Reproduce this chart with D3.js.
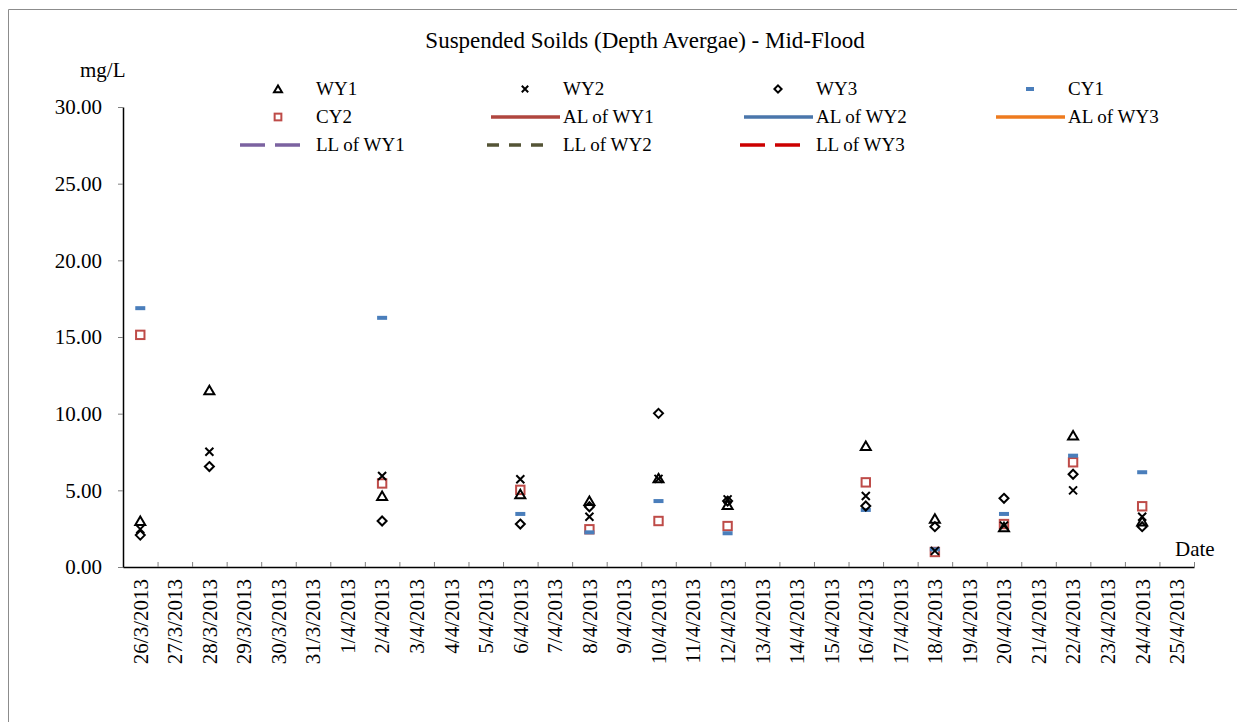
<!DOCTYPE html>
<html>
<head>
<meta charset="utf-8">
<script src="https://cdn.jsdelivr.net/npm/d3@7"></script>
<style>
    body { margin: 0; background: #fff; }
    svg { display: block; }
    text { font-family: "Liberation Serif", "Times New Roman", serif; }
</style>
</head>
<body>
<div id="chart"></div>
<script>
// every day on the category axis
const dates = ["26/3/2013", "27/3/2013", "28/3/2013", "29/3/2013", "30/3/2013", "31/3/2013",
    "1/4/2013", "2/4/2013", "3/4/2013", "4/4/2013", "5/4/2013", "6/4/2013", "7/4/2013",
    "8/4/2013", "9/4/2013", "10/4/2013", "11/4/2013", "12/4/2013", "13/4/2013", "14/4/2013",
    "15/4/2013", "16/4/2013", "17/4/2013", "18/4/2013", "19/4/2013", "20/4/2013", "21/4/2013",
    "22/4/2013", "23/4/2013", "24/4/2013", "25/4/2013"];

// days that were sampled
const sampleDates = ["26/3/2013", "28/3/2013", "2/4/2013", "6/4/2013", "8/4/2013", "10/4/2013",
    "12/4/2013", "16/4/2013", "18/4/2013", "20/4/2013", "22/4/2013", "24/4/2013"];

const wy1 = [3.00, 11.53, 4.63, 4.75, 4.30, 5.78, 4.04, 7.89, 3.15, 2.60, 8.57, 2.96];
const wy2 = [2.47, 7.52, 5.93, 5.72, 3.28, 5.75, 4.41, 4.63, 1.05, 2.70, 5.00, 3.28];
const wy3 = [2.08, 6.55, 3.00, 2.80, 3.93, 10.02, 4.30, 3.98, 2.63, 4.48, 6.05, 2.63];
const cy1 = [16.88, null, 16.25, 3.46, 2.26, 4.30, 2.20, 3.72, 1.15, 3.46, 7.26, 6.18];
const cy2 = [15.14, null, 5.45, 5.03, 2.46, 3.00, 2.67, 5.52, 0.98, 2.80, 6.83, 3.96];

const yTicks = [0, 5, 10, 15, 20, 25, 30];

const FONT = '"Liberation Serif", "Times New Roman", serif';
const width = 1237, height = 722;
const margin = {left: 123, right: 43, top: 107, bottom: 155};

const svg = d3.select('#chart').append('svg')
    .attr('width', width)
    .attr('height', height)
    .attr('font-family', FONT);

// chart frame
svg.append('path')
    .attr('d', `M8.5,${height} V9.5 H${width}`)
    .attr('fill', 'none')
    .attr('stroke', '#8c8c8c');

const x = d3.scaleBand()
    .domain(dates)
    .range([margin.left, width - margin.right]);

const xEdge = d3.scaleLinear()
    .domain([0, dates.length])
    .range([margin.left, width - margin.right]);

const y = d3.scaleLinear()
    .domain([0, 30])
    .range([height - margin.bottom, margin.top]);

const y0 = height - margin.bottom;

// y axis
const yAxis = svg.append('g')
    .attr('transform', `translate(${margin.left},0)`)
    .call(d3.axisLeft(y).tickValues(yTicks).tickSize(5).tickSizeOuter(0)
        .tickPadding(16).tickFormat(d3.format('.2f')));
yAxis.attr('font-family', FONT);
yAxis.select('.domain').attr('stroke', '#000').attr('stroke-width', 1.5);
yAxis.selectAll('.tick line').attr('stroke', '#808080');
yAxis.selectAll('.tick text').attr('font-size', 21).attr('fill', '#000');

// x axis tick marks between days
const xTickAxis = svg.append('g')
    .attr('transform', `translate(0,${y0})`)
    .call(d3.axisBottom(xEdge).tickValues(d3.range(1, dates.length + 1))
        .tickSize(-5).tickSizeOuter(0).tickFormat(''));
xTickAxis.select('.domain').attr('stroke', '#000').attr('stroke-width', 1.5);
xTickAxis.selectAll('.tick line').attr('stroke', '#808080');

// x axis labels
const xLabels = svg.append('g')
    .attr('transform', `translate(0,${y0})`)
    .call(d3.axisBottom(x).tickSize(0).tickPadding(0));
xLabels.attr('font-family', FONT);
xLabels.select('.domain').remove();
xLabels.selectAll('.tick text')
    .attr('font-size', 21)
    .attr('fill', '#000')
    .attr('text-anchor', 'end')
    .attr('transform', 'rotate(-90)')
    .attr('x', -12)
    .attr('y', 0)
    .attr('dy', '0.35em');

// titles
svg.append('text')
    .attr('x', 645).attr('y', 48)
    .attr('text-anchor', 'middle')
    .attr('font-family', FONT)
    .attr('font-size', 23)
    .text('Suspended Soilds (Depth Avergae) - Mid-Flood');

svg.append('text')
    .attr('x', 80).attr('y', 77)
    .attr('font-family', FONT)
    .attr('font-size', 21)
    .text('mg/L');

svg.append('text')
    .attr('x', 1175).attr('y', 556)
    .attr('font-family', FONT)
    .attr('font-size', 21)
    .text('Date');

function drawMarker(g, type, size) {
    const s = size;
    if (type === 'tri') {
        g.append('path')
            .attr('d', `M0,${-s * 0.45} L${s * 0.5},${s * 0.4} L${-s * 0.5},${s * 0.4} Z`)
            .attr('fill', 'none').attr('stroke', '#000').attr('stroke-width', 2);
    } else if (type === 'cross') {
        g.append('path')
            .attr('d', `M${-s * 0.4},${-s * 0.4} L${s * 0.4},${s * 0.4} M${s * 0.4},${-s * 0.4} L${-s * 0.4},${s * 0.4}`)
            .attr('fill', 'none').attr('stroke', '#000').attr('stroke-width', 2);
    } else if (type === 'dia') {
        g.append('path')
            .attr('d', `M0,${-s * 0.45} L${s * 0.45},0 L0,${s * 0.45} L${-s * 0.45},0 Z`)
            .attr('fill', 'none').attr('stroke', '#000').attr('stroke-width', 2);
    } else if (type === 'dash') {
        g.append('rect')
            .attr('x', -s * 0.5).attr('y', -2).attr('width', s).attr('height', 4)
            .attr('fill', '#4a7ebb');
    } else if (type === 'square') {
        g.append('rect')
            .attr('x', -s * 0.42).attr('y', -s * 0.42).attr('width', s * 0.84).attr('height', s * 0.84)
            .attr('fill', 'none').attr('stroke', '#be4b48').attr('stroke-width', 2);
    }
}

const series = [
    {name: 'WY1', values: wy1, type: 'tri'},
    {name: 'WY2', values: wy2, type: 'cross'},
    {name: 'WY3', values: wy3, type: 'dia'},
    {name: 'CY1', values: cy1, type: 'dash'},
    {name: 'CY2', values: cy2, type: 'square'}
];

const plot = svg.append('g');
// draw in reverse so the WY markers stay on top
series.slice().reverse().forEach(s => {
    sampleDates.forEach((d, i) => {
        const v = s.values[i];
        if (v === null) return;
        const g = plot.append('g')
            .attr('transform', `translate(${x(d) + x.bandwidth() / 2},${y(v)})`);
        drawMarker(g, s.type, 10);
    });
});

// legend
const legendItems = [
    {name: 'WY1', kind: 'marker', type: 'tri'},
    {name: 'WY2', kind: 'marker', type: 'cross'},
    {name: 'WY3', kind: 'marker', type: 'dia'},
    {name: 'CY1', kind: 'marker', type: 'dash'},
    {name: 'CY2', kind: 'marker', type: 'square'},
    {name: 'AL of WY1', kind: 'line', color: '#b0463f', dash: null},
    {name: 'AL of WY2', kind: 'line', color: '#4a76ab', dash: null},
    {name: 'AL of WY3', kind: 'line', color: '#ee7b1f', dash: null},
    {name: 'LL of WY1', kind: 'line', color: '#7b62a0', dash: '25,10'},
    {name: 'LL of WY2', kind: 'line', color: '#545436', dash: '12,10'},
    {name: 'LL of WY3', kind: 'line', color: '#cc0000', dash: '25,10'}
];
const legendX = [316, 563, 816, 1068];
const legendY = [89, 117, 145];

const legend = svg.append('g');
legendItems.forEach((item, i) => {
    const col = i % 4, row = Math.floor(i / 4);
    const tx = legendX[col], ty = legendY[row];
    const g = legend.append('g').attr('transform', `translate(${tx},${ty})`);
    if (item.kind === 'marker') {
        const mg = g.append('g').attr('transform', 'translate(-38,0)');
        drawMarker(mg, item.type, 8);
    } else {
        g.append('line')
            .attr('x1', item.dash ? -76 : -72).attr('x2', item.dash ? -14 : -3)
            .attr('y1', 0).attr('y2', 0)
            .attr('stroke', item.color)
            .attr('stroke-width', 3.5)
            .attr('stroke-dasharray', item.dash);
    }
    g.append('text')
        .attr('x', 0).attr('y', 6)
        .attr('font-family', FONT)
        .attr('font-size', 19)
        .text(item.name);
});
</script>
</body>
</html>
